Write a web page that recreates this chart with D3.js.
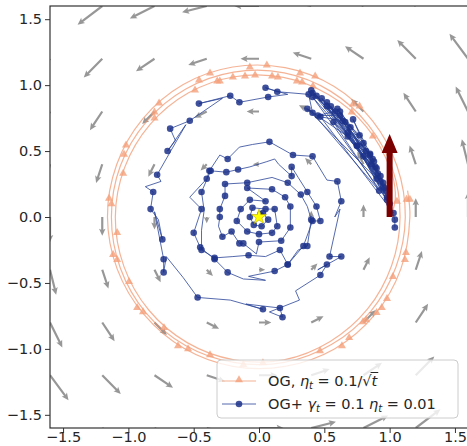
<!DOCTYPE html>
<html>
<head>
<meta charset="utf-8">
<script src="https://cdn.jsdelivr.net/npm/d3@7"></script>
<style>
  body { margin: 0; background: #fff; }
  svg { font-family: "DejaVu Sans", sans-serif; }
</style>
</head>
<body>
<svg id="chart"></svg>
<script>
// ---- data ----
const tickValues = [-1.5, -1, -0.5, 0, 0.5, 1, 1.5]

// quiver grid, field is a pure rotation: u depends on the row, v on the column
const gridX = [-1.6, -1.2, -0.8, -0.4, 0, 0.4, 0.8, 1.2, 1.6]
const gridY = [-1.6, -1.2, -0.8, -0.4, 0, 0.4, 0.8, 1.2, 1.6]
const fieldU = [1.6, 1.2, 0.8, 0.4, 0, -0.4, -0.8, -1.2, -1.6]
const fieldV = [-1.6, -1.2, -0.8, -0.4, 0, 0.4, 0.8, 1.2, 1.6]

const ogPath = [
  [0, 1.0], [5, 1.04], [10, 1.06], [20, 1.07], [40, 1.07], [60, 1.07], [80, 1.075], [100, 1.08],
  [120, 1.085], [140, 1.09], [160, 1.095], [180, 1.1], [200, 1.1], [220, 1.1], [240, 1.1],
  [260, 1.1], [280, 1.1], [300, 1.09], [320, 1.085], [340, 1.08], [360, 1.08],
  [380, 1.085], [400, 1.09], [420, 1.1], [440, 1.11], [460, 1.115], [480, 1.12], [500, 1.125],
  [520, 1.13], [540, 1.13], [560, 1.13], [580, 1.13], [600, 1.125], [620, 1.12], [640, 1.12],
  [660, 1.115], [680, 1.115], [700, 1.115], [720, 1.12],
  [740, 1.125], [760, 1.135], [780, 1.145], [800, 1.15], [820, 1.155], [840, 1.16], [860, 1.16],
  [880, 1.16], [900, 1.16], [920, 1.155], [940, 1.15], [960, 1.15], [980, 1.15], [1000, 1.15],
  [1020, 1.155], [1040, 1.155], [1060, 1.155], [1080, 1.155], [1090, 1.155]
]
// OG markers (x, y)
const ogMarks = [
  [-0.375, 1.091], [-0.459, 1.038], [-0.49, 0.962], [-0.32, 1.03], [-0.3, 1.03], [-0.2, 1.06],
  [-0.765, 0.863], [-0.8, 0.795], [-0.8, 0.749], [-1.018, 0.544], [-1.033, 0.475], [-1.04, 0.33],
  [-1.148, 0.141], [-1.13, 0.1], [-0.07, 1.137], [0.06, 1.152], [-0.107, 1.068], [-0.03, 1.076],
  [0.1, 1.068], [0.145, 1.06], [0.314, 1.091], [0.43, 1.068], [0.29, 1.03], [0.33, 1.023],
  [0.413, 0.992], [0.72, 0.855], [0.77, 0.84], [0.71, 0.795], [0.872, 0.612], [1.056, 0.118],
  [1.13, 0.133], [1.155, 0.133], [-1.086, -0.118], [-1.117, -0.285], [-1.086, -0.323],
  [-0.995, -0.49], [-0.933, -0.688], [-0.888, -0.719], [-0.727, -0.84], [-0.62, -0.977],
  [-0.543, -1.0], [-0.375, -1.046], [0.03, -1.106], [-0.12, -1.12], [0.467, -1.015],
  [0.635, -0.977], [0.69, -0.916], [0.796, -0.795], [0.82, -0.78], [0.9, -0.726], [0.94, -0.688],
  [0.98, -0.62], [1.025, -0.452], [1.117, -0.323], [1.125, -0.27]
]

// OG+ run: [x, y, has marker]
const ogPlusPath = [
  [1.04, -0.08, 1], [1.04, -0.02, 1], [1.0, 0.1, 1], [0.97, 0.2, 1], [0.6, 0.82, 1],
  [0.95, 0.26, 1], [0.93, 0.31, 1], [0.44, 0.92, 1], [0.9, 0.37, 1], [0.96, 0.22, 1],
  [0.52, 0.87, 1], [0.87, 0.44, 1], [0.85, 0.48, 1], [0.41, 0.94, 1], [0.91, 0.33, 1],
  [0.8, 0.56, 1], [0.62, 0.8, 1], [0.88, 0.42, 1], [0.72, 0.74, 1], [0.98, 0.15, 1],
  [0.68, 0.64, 1], [0.77, 0.62, 1], [0.48, 0.9, 1], [0.93, 0.27, 1], [0.75, 0.54, 1],
  [0.85, 0.47, 1], [0.55, 0.84, 1], [0.89, 0.38, 1], [0.66, 0.72, 1], [0.7, 0.68, 1],
  [0.4, 0.96, 1], [0.82, 0.5, 1], [0.58, 0.8, 1], [0.45, 0.77, 1], [0.62, 0.77, 1],
  [1.03, 0.03, 1], [0.47, 0.76, 1], [0.64, 0.73, 1], [0.8, 0.46, 1], [0.9, 0.29, 1],
  [0.37, 0.82, 1], [0.68, 0.61, 1], [0.95, 0.23, 1], [0.52, 0.84, 1], [0.75, 0.54, 1],
  [0.98, 0.13, 1], [0.41, 0.91, 1], [0.86, 0.4, 1], [0.57, 0.72, 1], [0.92, 0.2, 1],
  [0.41, 0.79, 1], [0.38, 0.93, 1],
  [0.14, 0.95, 1], [0.05, 0.98, 1], [0.22, 0.93, 0], [0.07, 0.91, 1], [-0.15, 0.87, 1],
  [-0.22, 0.92, 1], [-0.46, 0.86, 1], [-0.28, 0.9, 0], [-0.53, 0.73, 1], [-0.68, 0.67, 1],
  [-0.64, 0.58, 0], [-0.7, 0.5, 1], [-0.56, 0.7, 0], [-0.78, 0.32, 1], [-0.75, 0.27, 0],
  [-0.87, 0.23, 0], [-0.81, 0.19, 1], [-0.83, 0.06, 1], [-0.77, -0.02, 0], [-0.74, -0.17, 1],
  [-0.8, 0.04, 0], [-0.73, -0.32, 1], [-0.73, -0.42, 1], [-0.71, -0.3, 0], [-0.58, -0.46, 0],
  [-0.47, -0.61, 1], [-0.22, -0.63, 0], [0.03, -0.7, 1], [-0.1, -0.66, 0], [0.16, -0.69, 1],
  [0.18, -0.76, 1], [0.08, -0.72, 0], [0.31, -0.63, 0], [0.28, -0.56, 0], [0.47, -0.44, 1],
  [0.52, -0.36, 1], [0.45, -0.4, 0], [0.63, -0.3, 1], [0.54, -0.3, 1], [0.62, 0.06, 0],
  [0.58, 0.0, 0], [0.63, 0.12, 1], [0.6, 0.27, 1], [0.52, 0.28, 0], [0.41, 0.46, 1],
  [0.26, 0.47, 1], [0.08, 0.57, 1],
  [-0.05, 0.55, 0], [-0.15, 0.53, 0], [-0.24, 0.44, 1], [-0.3, 0.47, 0], [-0.38, 0.35, 1],
  [-0.4, 0.29, 1], [-0.53, 0.15, 0], [-0.44, 0.06, 1], [-0.47, -0.03, 0], [-0.5, -0.12, 1],
  [-0.45, -0.23, 1], [-0.34, -0.32, 1], [-0.24, -0.42, 1], [-0.12, -0.47, 0], [0.05, -0.48, 0],
  [-0.08, -0.45, 0], [0.12, -0.41, 1], [0.22, -0.36, 1], [0.34, -0.22, 1], [0.41, -0.03, 1],
  [0.47, -0.03, 1], [0.44, 0.08, 1], [0.37, 0.19, 1], [0.3, 0.3, 0], [0.25, 0.38, 1],
  [0.25, 0.31, 1], [0.15, 0.4, 0], [0.12, 0.44, 0], [0.06, 0.42, 0], [-0.07, 0.38, 0],
  [-0.16, 0.36, 1], [-0.25, 0.34, 1], [-0.37, 0.35, 1], [-0.44, 0.19, 1], [-0.42, 0.05, 0],
  [-0.44, -0.1, 0], [-0.44, -0.25, 1], [-0.34, -0.31, 1], [-0.2, -0.3, 0], [-0.08, -0.29, 1],
  [0.05, -0.3, 0], [0.16, -0.25, 1], [0.22, -0.36, 1], [0.3, -0.25, 0], [0.37, -0.22, 1],
  [0.4, -0.02, 1], [0.37, 0.08, 0], [0.32, 0.17, 1], [0.22, 0.26, 1], [0.1, 0.3, 0],
  [-0.09, 0.26, 1], [-0.26, 0.25, 1], [-0.26, 0.16, 1], [-0.3, 0.06, 1], [-0.3, 0.0, 1],
  [-0.31, -0.07, 0], [-0.28, -0.15, 1], [-0.21, -0.11, 1], [-0.15, -0.2, 1], [-0.12, -0.2, 1],
  [-0.02, -0.28, 0], [0.0, -0.19, 1], [0.17, -0.18, 1], [0.24, -0.08, 1], [0.24, 0.08, 1],
  [0.2, 0.15, 1], [0.1, 0.21, 1], [-0.09, 0.22, 1],
  [0.05, 0.12, 1], [-0.07, 0.13, 1], [-0.14, 0.06, 1], [-0.17, -0.03, 1], [-0.09, -0.11, 1],
  [0.0, -0.13, 1], [0.1, -0.12, 1], [0.14, -0.07, 1], [0.12, 0.06, 1],
  [0.05, 0.06, 1], [-0.05, 0.07, 1], [-0.07, 0.0, 1], [-0.04, -0.06, 1], [0.02, -0.07, 1],
  [0.07, -0.02, 1], [0.03, 0.03, 1], [0.01, 0.02, 1]
]

// starting direction arrow and the equilibrium
const startArrow = { x0: 1, y0: 0, x1: 1, y1: 0.63 }
const equilibrium = [0, 0]

// ---- chart ----
const width = 467
const height = 446
const svg = d3.select("#chart").attr("width", width).attr("height", height)

const x = d3.scaleLinear().domain([-1.6, 1.6]).range([50, 468])
const y = d3.scaleLinear().domain([-1.6, 1.6]).range([428, 6])

svg.append("defs").append("clipPath").attr("id", "plotArea")
  .append("rect").attr("x", 50).attr("y", 6).attr("width", 418).attr("height", 422)

const plot = svg.append("g").attr("clip-path", "url(#plotArea)")

// arrow polygon in pixel space
function arrowPoints(x0, y0, x1, y1, w, hw, hl, ha) {
  const L = Math.hypot(x1 - x0, y1 - y0)
  if (L < 0.5) return null
  if (L < hl) {
    const s = L / hl
    w *= s; hw *= s; hl *= s; ha *= s
  }
  const dx = (x1 - x0) / L, dy = (y1 - y0) / L
  const nx = -dy, ny = dx
  const bx = x1 - dx * ha, by = y1 - dy * ha
  const hx = x1 - dx * hl, hy = y1 - dy * hl
  return [
    [x0 + nx * w / 2, y0 + ny * w / 2],
    [bx + nx * w / 2, by + ny * w / 2],
    [hx + nx * hw / 2, hy + ny * hw / 2],
    [x1, y1],
    [hx - nx * hw / 2, hy - ny * hw / 2],
    [bx - nx * w / 2, by - ny * w / 2],
    [x0 - nx * w / 2, y0 - ny * w / 2]
  ]
}

// quiver
const arrowScale = 0.118
const quiver = []
gridY.forEach((gy, i) => gridX.forEach((gx, j) => quiver.push({ x: gx, y: gy, u: fieldU[i], v: fieldV[j] })))

plot.append("g").selectAll("polygon")
  .data(quiver.map(d => arrowPoints(x(d.x), y(d.y), x(d.x + d.u * arrowScale), y(d.y + d.v * arrowScale), 2.2, 6.5, 7, 6)).filter(p => p))
  .enter().append("polygon")
  .attr("points", d => d.map(p => p.join(",")).join(" "))
  .attr("fill", "#8c8c8c")
  .attr("opacity", 0.9)

// OG
const toRad = d => d * Math.PI / 180
const ogXY = ogPath.map(([a, r]) => [r * Math.cos(toRad(a)), r * Math.sin(toRad(a))])
const line = d3.line().x(d => x(d[0])).y(d => y(d[1]))

plot.append("path")
  .datum(ogXY)
  .attr("d", line.curve(d3.curveCatmullRom))
  .attr("fill", "none")
  .attr("stroke", "#f08a5d")
  .attr("stroke-width", 1.2)
  .attr("opacity", 0.65)

const triangle = d3.symbol().type(d3.symbolTriangle).size(28)
plot.append("g").selectAll("path")
  .data(ogMarks)
  .enter().append("path")
  .attr("d", triangle)
  .attr("transform", d => `translate(${x(d[0])},${y(d[1])})`)
  .attr("fill", "#f4a07a")
  .attr("opacity", 0.8)

// OG+
plot.append("path")
  .datum(ogPlusPath)
  .attr("d", d3.line().x(d => x(d[0])).y(d => y(d[1])))
  .attr("fill", "none")
  .attr("stroke", "#2b4599")
  .attr("stroke-width", 1)
  .attr("stroke-linejoin", "round")
  .attr("opacity", 0.8)

plot.append("g").selectAll("circle")
  .data(ogPlusPath.filter(d => d[2]))
  .enter().append("circle")
  .attr("cx", d => x(d[0]))
  .attr("cy", d => y(d[1]))
  .attr("r", 3.3)
  .attr("fill", "#1c318a")
  .attr("opacity", 0.85)

// start arrow
const sa = arrowPoints(x(startArrow.x0), y(startArrow.y0), x(startArrow.x1), y(startArrow.y1), 6, 16, 19, 19)
plot.append("polygon")
  .attr("points", sa.map(p => p.join(",")).join(" "))
  .attr("fill", "#7a0000")

// equilibrium star
plot.append("path")
  .attr("d", d3.symbol().type(d3.symbolStar).size(70))
  .attr("transform", `translate(${x(equilibrium[0])},${y(equilibrium[1])})`)
  .attr("fill", "#ffff00")
  .attr("stroke", "#b8a800")
  .attr("stroke-width", 0.6)

// axes
const fmt = d3.format(".1f")
const xAxis = d3.axisBottom(x).tickValues(tickValues).tickFormat(fmt).tickSize(5).tickSizeOuter(0)
const yAxis = d3.axisLeft(y).tickValues(tickValues).tickFormat(fmt).tickSize(5).tickSizeOuter(0).tickPadding(3)

const gx = svg.append("g").attr("transform", "translate(0,428)").call(xAxis)
const gy = svg.append("g").attr("transform", "translate(50,0)").call(yAxis)
;[gx, gy].forEach(g => {
  g.selectAll("text").attr("font-size", 14.5).attr("fill", "#262626").attr("font-family", "DejaVu Sans")
  g.selectAll("line").attr("stroke", "#333")
  g.select(".domain").remove()
})
// keep the x labels inside the window
gx.selectAll("text").attr("y", 4)

// frame
svg.append("rect")
  .attr("x", 50).attr("y", 6).attr("width", 418).attr("height", 422)
  .attr("fill", "none").attr("stroke", "#333").attr("stroke-width", 1.2)

// legend
const lg = svg.append("g")
lg.append("rect")
  .attr("x", 217).attr("y", 360).attr("width", 241).attr("height", 58).attr("rx", 4)
  .attr("fill", "#fff").attr("fill-opacity", 0.8).attr("stroke", "#cccccc")

lg.append("line").attr("x1", 222).attr("x2", 256).attr("y1", 381).attr("y2", 381)
  .attr("stroke", "#f08a5d").attr("stroke-width", 1.2).attr("opacity", 0.65)
lg.append("path").attr("d", triangle).attr("transform", "translate(239,380)")
  .attr("fill", "#f4a07a").attr("opacity", 0.8)
lg.append("line").attr("x1", 222).attr("x2", 256).attr("y1", 404).attr("y2", 404)
  .attr("stroke", "#2b4599").attr("stroke-width", 1).attr("opacity", 0.8)
lg.append("circle").attr("cx", 239).attr("cy", 404).attr("r", 3.3)
  .attr("fill", "#1c318a").attr("opacity", 0.85)

const t1 = lg.append("text").attr("x", 268).attr("y", 386).attr("font-size", 14.5).attr("fill", "#262626")
t1.append("tspan").text("OG, ")
t1.append("tspan").attr("font-style", "italic").text("η")
t1.append("tspan").attr("font-style", "italic").attr("font-size", 10).attr("dy", 3).text("t")
t1.append("tspan").attr("dy", -3).text(" = 0.1/√")
t1.append("tspan").attr("font-style", "italic").text("t")

// overline of the square root
const n1 = t1.node()
const last = n1.getNumberOfChars() - 1
const s0 = n1.getStartPositionOfChar(last).x
const s1 = n1.getEndPositionOfChar(last).x
lg.append("line").attr("x1", s0 - 1).attr("x2", s1 + 1).attr("y1", 372.5).attr("y2", 372.5)
  .attr("stroke", "#262626").attr("stroke-width", 1)

const t2 = lg.append("text").attr("x", 268).attr("y", 409).attr("font-size", 14.5).attr("fill", "#262626")
t2.append("tspan").text("OG+ ")
t2.append("tspan").attr("font-style", "italic").text("γ")
t2.append("tspan").attr("font-style", "italic").attr("font-size", 10).attr("dy", 3).text("t")
t2.append("tspan").attr("dy", -3).text(" = 0.1 ")
t2.append("tspan").attr("font-style", "italic").text("η")
t2.append("tspan").attr("font-style", "italic").attr("font-size", 10).attr("dy", 3).text("t")
t2.append("tspan").attr("dy", -3).text(" = 0.01")
</script>
</body>
</html>
